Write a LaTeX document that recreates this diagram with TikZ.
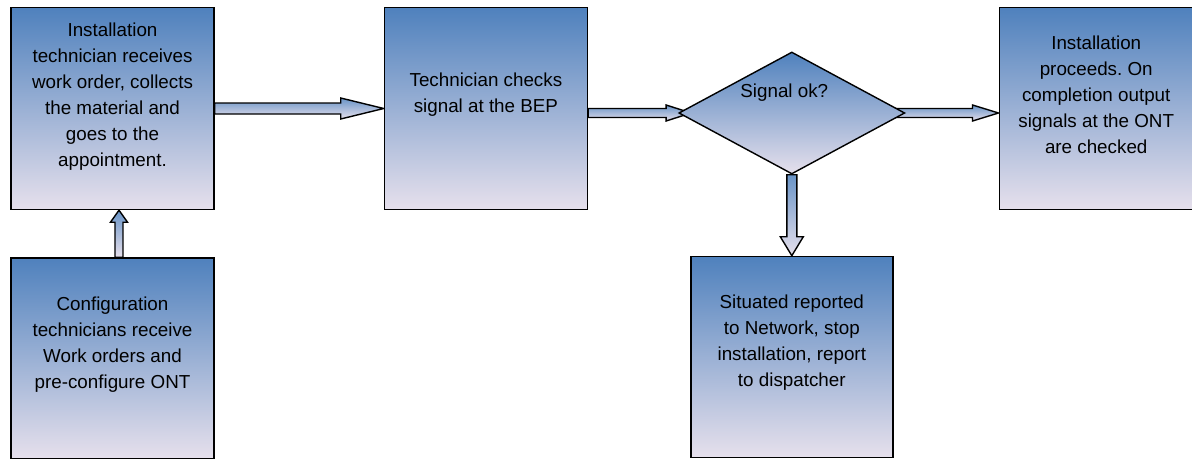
\documentclass[tikz,border=0pt]{standalone}
\usepackage{fontspec}
\setmainfont{Liberation Sans}
\usetikzlibrary{positioning,calc,shapes.geometric,backgrounds}
\definecolor{boxblue}{HTML}{4F81BD}
\definecolor{boxlav}{HTML}{E6E0EC}
\frenchspacing
\tikzset{
    box/.style={draw=black, line width=0.8pt, top color=boxblue, bottom color=boxlav,
        minimum width=4.06cm, minimum height=4.04cm, inner sep=0pt},
    decision/.style={shape=diamond, draw=black, line width=0.8pt, top color=boxblue,
        bottom color=boxlav, minimum width=4.52cm, minimum height=2.44cm, inner sep=0pt},
    boxtext/.style={align=center, yshift=0.28cm, font=\fontsize{10.7}{14.8}\selectfont},
    arrowfill/.style={draw=black, line width=0.8pt, top color=boxblue!85, bottom color=boxlav},
    shaft half/.store in=\shafthalf,
    head half/.store in=\headhalf,
    head len/.store in=\headlen,
    shaft half=0.11cm, head half=0.21cm, head len=0.86cm
}
% block arrow from #2 to #3
\newcommand{\fatarrow}[3][]{%
    \begin{scope}[#1]
        \coordinate (fat base) at ($(#3)!\headlen!(#2)$);
        \path[arrowfill] ($(#2)!\shafthalf!90:(#3)$) -- ($(fat base)!\shafthalf!90:(#3)$)
            -- ($(fat base)!\headhalf!90:(#3)$) -- (#3) -- ($(fat base)!\headhalf!-90:(#3)$)
            -- ($(fat base)!\shafthalf!-90:(#3)$) -- ($(#2)!\shafthalf!-90:(#3)$) -- cycle;
    \end{scope}}

\begin{document}
\begin{tikzpicture}[auto]
    \useasboundingbox (-2.25,2.17) rectangle (21.59,-7.01);

    \node[box, label={[boxtext, yshift=-0.05cm]center:{Installation\\technician receives\\work order, collects\\the material and\\goes to the\\appointment.}}] (install) at (0,0) {};
    \node[box, right=3.38cm of install, label={[boxtext]center:{Technician checks\\signal at the BEP}}] (check) {};
    \node[decision, right=1.8cm of check, yshift=-0.09cm, label={[boxtext, yshift=0.12cm, xshift=-0.15cm]center:{Signal ok?}}] (ok) {};
    \node[box, minimum width=3.88cm, right=1.86cm of ok, yshift=0.09cm, label={[boxtext]center:{Installation\\proceeds. On\\completion output\\signals at the ONT\\are checked}}] (proceed) {};
    \node[box, minimum height=4.02cm, below=0.94cm of install, label={[boxtext]center:{Configuration\\technicians receive\\Work orders and\\pre-configure ONT}}] (config) {};
    \node[box, minimum width=4.04cm, minimum height=4.02cm, below=1.62cm of ok, label={[boxtext]center:{Situated reported\\to Network, stop\\installation, report\\to dispatcher}}] (report) {};

    \coordinate (okin) at ([xshift=0.26cm]ok.west);
    \coordinate (chkout) at (check.east |- okin);
    \coordinate (okout) at ([xshift=-0.5cm]ok.east);
    \coordinate (procin) at (proceed.west |- okout);
    \coordinate (cfgout) at ([xshift=0.13cm]config.north);
    \coordinate (instin) at (cfgout |- install.south);

    \begin{scope}[on background layer]
        \fatarrow{install.east}{check.west}
        \fatarrow[head len=0.5cm, shaft half=0.09cm, head half=0.16cm]{chkout}{okin}
        \fatarrow[head len=0.52cm, shaft half=0.09cm, head half=0.16cm]{okout}{procin}
        \fatarrow[head len=0.38cm, shaft half=0.1cm, head half=0.23cm]{ok.south}{report.north}
        \fatarrow[head len=0.24cm, shaft half=0.08cm, head half=0.17cm]{cfgout}{instin}
    \end{scope}
\end{tikzpicture}
\end{document}
